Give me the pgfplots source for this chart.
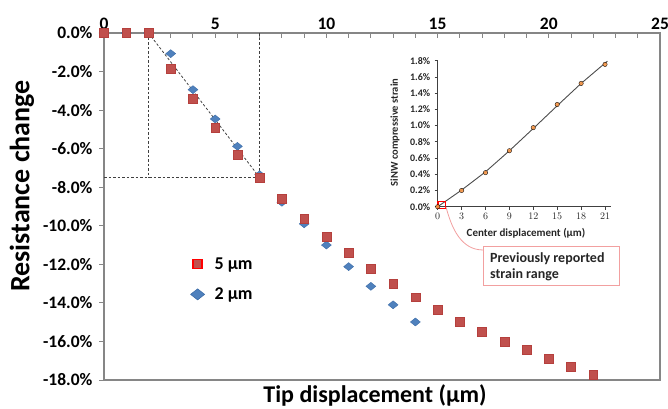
\documentclass[border=0pt]{standalone}
\usepackage{pgfplots}
\pgfplotsset{compat=1.18}
\usepackage{fontspec}
\setmainfont{Carlito}
\definecolor{sqred}{HTML}{C0504D}
\definecolor{sqedge}{HTML}{B5403D}
\definecolor{dblue}{HTML}{4F81BD}
\definecolor{bedge}{HTML}{3D6DA8}
\definecolor{orng}{HTML}{F79646}
\definecolor{axgray}{HTML}{868686}
\definecolor{pinkc}{HTML}{F2A0A0}
\begin{document}
\begin{tikzpicture}[x=1pt,y=1pt]
\useasboundingbox (0,0) rectangle (668,408);
\begin{axis}[
  at={(104pt,28pt)}, anchor=south west,
  scale only axis, width=556pt, height=347pt,
  xmin=0, xmax=25, ymin=-18, ymax=0,
  clip=false,
  axis line style={axgray, line width=1.4pt},
  xtick={0,5,...,25}, minor xtick={1,2,...,24},
  xticklabels={0,5,10,15,20,25},
  xtick pos=right, xticklabel pos=right,
  ytick={-18,-16,...,0},
  yticklabels={-18.0\%,-16.0\%,-14.0\%,-12.0\%,-10.0\%,-8.0\%,-6.0\%,-4.0\%,-2.0\%,0.0\%},
  ytick pos=left,
  xtick align=inside, ytick align=outside,
  major tick length=5pt, minor tick length=5pt,
  every tick/.style={axgray, line width=1pt},
  minor tick style={axgray, line width=1pt},
  tick label style={font=\fontsize{17.5}{19}\selectfont\bfseries, text=black},
  yticklabel style={xshift=-3pt},
  legend style={at={(0.15,0.365)}, anchor=north west, draw=none, fill=none,
    font=\fontsize{18}{21}\selectfont\bfseries, row sep=13pt,
    /tikz/every odd column/.append style={column sep=8pt}},
  legend cell align=left,
]
\addlegendimage{only marks, mark=square*, mark size=4.5pt, mark options={fill=sqred, draw=red, line width=1.4pt}}
\addlegendentry{5 µm}
\addlegendimage{only marks, mark=diamond*, mark size=5.5pt, mark options={fill=dblue, draw=bedge, line width=0.6pt, xscale=1.7}}
\addlegendentry{2 µm}
% dashed guide lines
\addplot[forget plot, black!75, line width=0.8pt, dash pattern=on 2.5pt off 2pt] coordinates {(2,0) (7,-7.5)};
\addplot[forget plot, black!75, line width=0.8pt, dash pattern=on 2.5pt off 2pt] coordinates {(2,0) (2,-7.5)};
\addplot[forget plot, black!75, line width=0.8pt, dash pattern=on 2.5pt off 2pt] coordinates {(7,0) (7,-7.5)};
\addplot[forget plot, black!75, line width=0.8pt, dash pattern=on 2.5pt off 2pt] coordinates {(0,-7.5) (7,-7.5)};
% 2 um
\addplot[forget plot, only marks, mark=diamond*, mark size=4pt, mark options={fill=dblue, draw=bedge, line width=0.4pt, xscale=1.65}] coordinates {
(0,0) (1,0) (2,0) (3,-1.07) (4,-2.94) (5,-4.46) (6,-5.88) (7,-7.35) (8,-8.78) (9,-9.90) (10,-11.00)
(11,-12.12) (12,-13.14) (13,-14.10) (14,-14.99)};
% 5 um
\addplot[forget plot, only marks, mark=square*, mark size=4.4pt, mark options={fill=sqred, draw=sqedge, line width=0.4pt}] coordinates {
(0,0) (1,0) (2,0) (3,-1.85) (4,-3.42) (5,-4.93) (6,-6.31) (7,-7.52) (8,-8.60) (9,-9.65) (10,-10.55)
(11,-11.41) (12,-12.21) (13,-13.00) (14,-13.70) (15,-14.35) (16,-14.96) (17,-15.51) (18,-16.01)
(19,-16.43) (20,-16.88) (21,-17.29) (22,-17.74)};
\end{axis}
% main axis labels
\node[rotate=90, font=\fontsize{28}{32}\selectfont\bfseries] at (22,222) {Resistance change};
\node[font=\fontsize{24}{28}\selectfont\bfseries] at (375,13) {Tip displacement (µm)};
% inset
\begin{axis}[
  at={(437.7pt,201.3pt)}, anchor=south west,
  scale only axis, width=173.7pt, height=146pt,
  xmin=0, xmax=21.8, ymin=0, ymax=1.8,
  clip=false,
  axis x line=bottom, axis y line=left,
  axis line style={black!75, line width=0.9pt, -},
  xtick={0,3,...,21},
  ytick={0,0.2,0.4,0.6,0.8,1.0,1.2,1.4,1.6,1.8},
  yticklabels={0.0\%,0.2\%,0.4\%,0.6\%,0.8\%,1.0\%,1.2\%,1.4\%,1.6\%,1.8\%},
  tick align=outside, major tick length=3pt,
  every tick/.style={black!75, line width=0.8pt},
  tick label style={font=\fontsize{10}{11}\selectfont\bfseries, text=black!85},
  yticklabel style={xshift=-1pt},
]
\addplot[black!70, line width=0.9pt] coordinates {
(0,0) (3,0.205) (6,0.43) (9,0.69) (12,0.965) (15,1.245) (18,1.52) (21,1.77) (21.3,1.795)};
\addplot[only marks, mark=*, mark size=2.2pt, mark options={fill=orng, draw=none, opacity=0.9}] coordinates {
(0,0) (3,0.20) (6,0.42) (9,0.69) (12,0.975) (15,1.26) (18,1.52) (21,1.755)};
\draw[red, line width=1.3pt] (axis cs:0.05,-0.02) rectangle (axis cs:1.0,0.065);
\end{axis}
\node[rotate=90, font=\fontsize{10.5}{12}\selectfont\bfseries, text=black!85] at (395,275.5) {SiNW compressive strain};
\node[font=\fontsize{11}{13}\selectfont\bfseries, text=black!85] at (526,175) {Center displacement (µm)};
% callout
\draw[pinkc, line width=0.8pt] (446,201) to[out=-75, in=180] (483.3,158);
\draw[pinkc, line width=0.9pt, fill=white] (483.3,122.3) rectangle (619.3,161.3);
\node[anchor=north west, align=left, font=\fontsize{14}{16.5}\selectfont\bfseries, text=black!85, inner sep=0pt] at (490,156) {Previously reported\\strain range};
\end{tikzpicture}
\end{document}
